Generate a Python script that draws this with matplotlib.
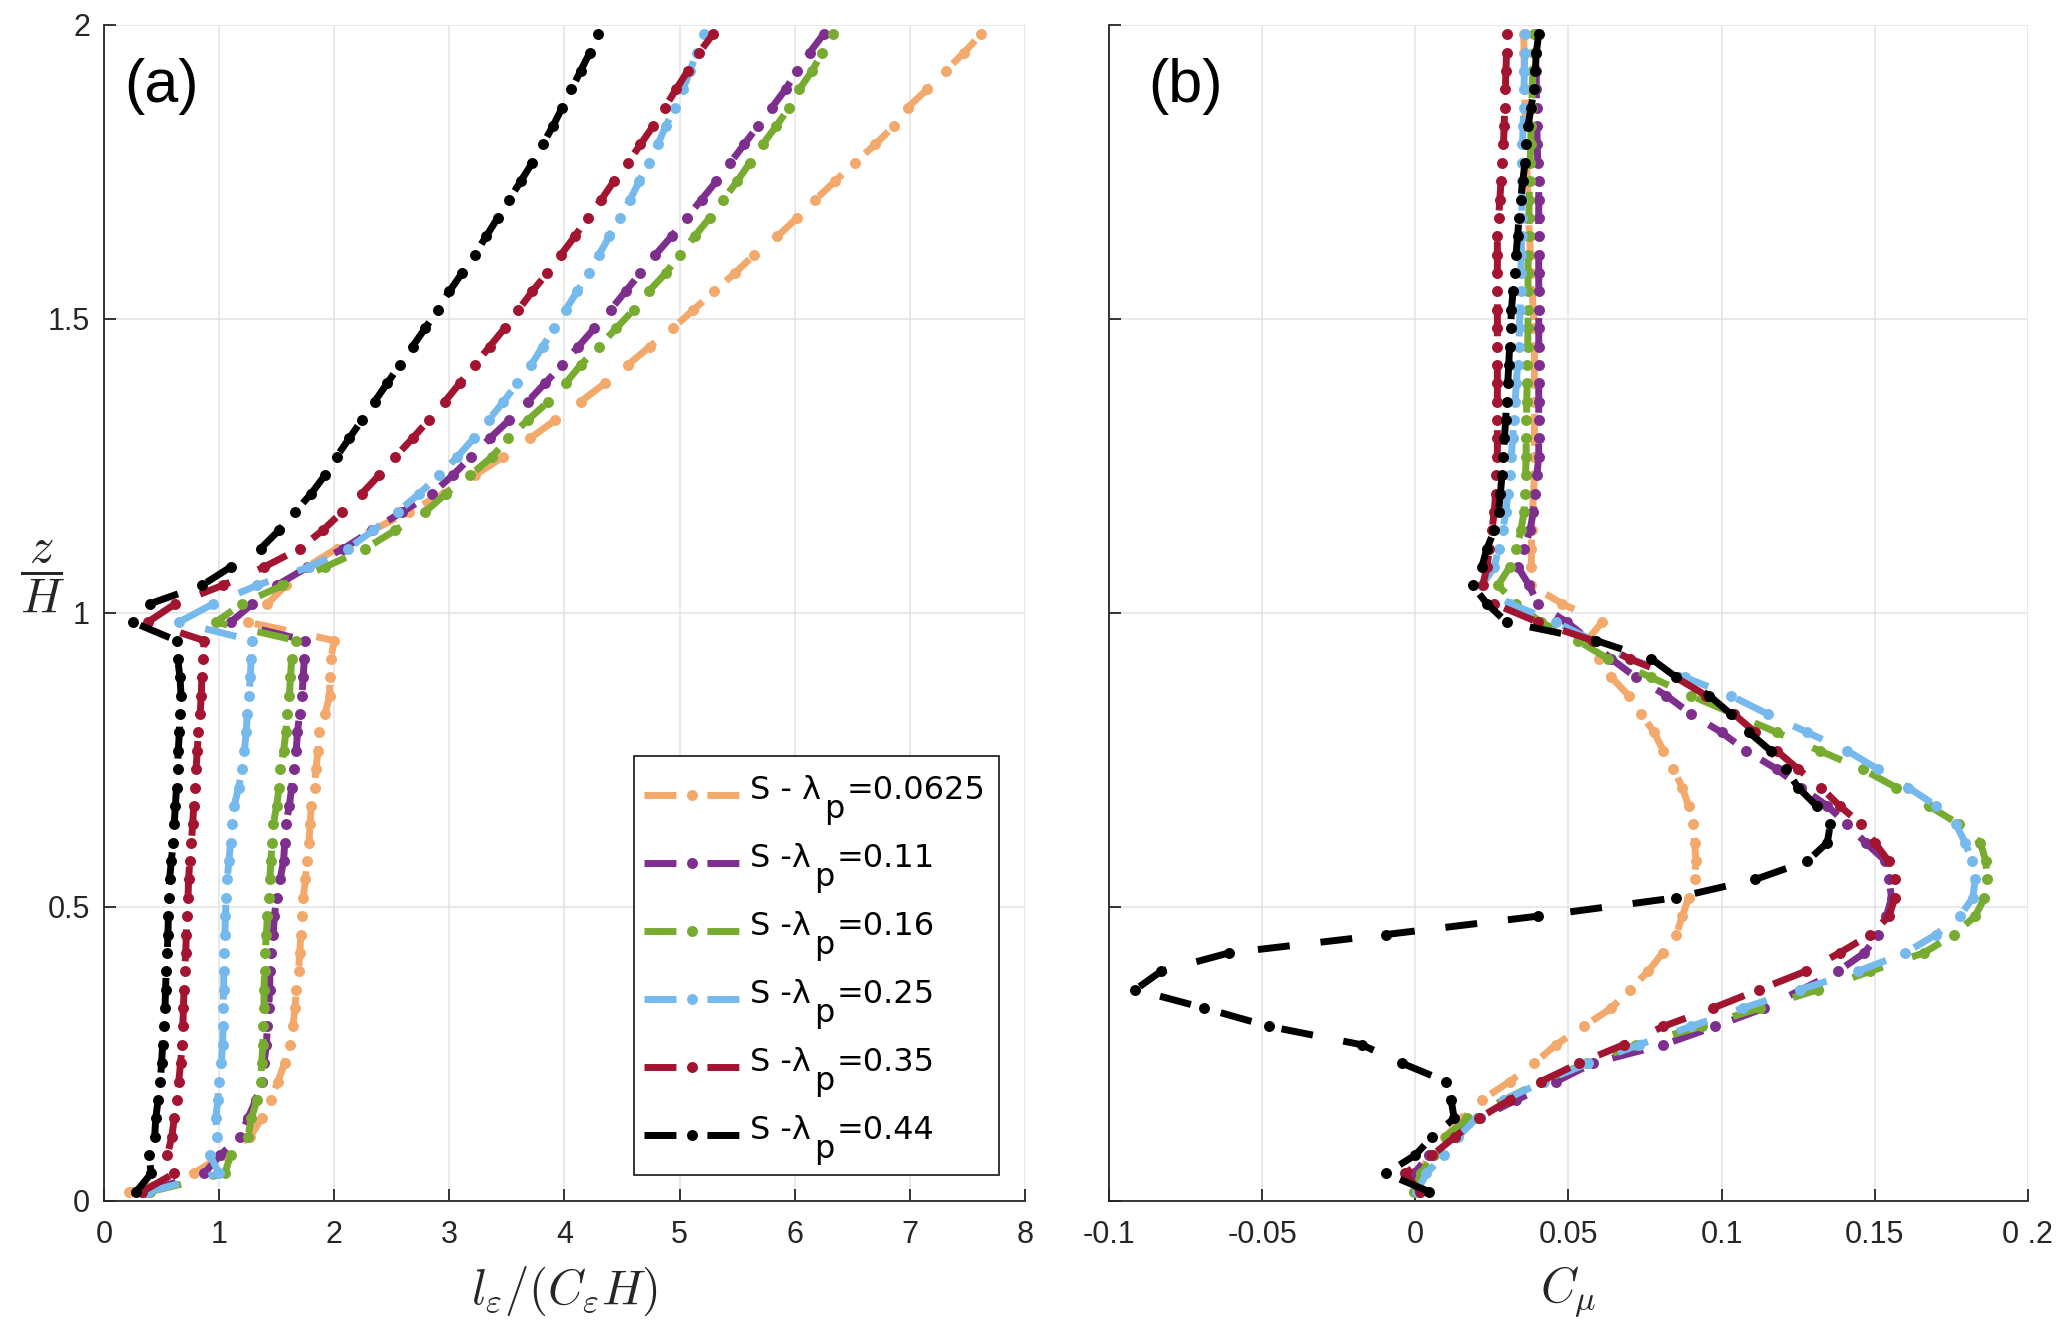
import numpy as np
import matplotlib
matplotlib.use("Agg")
import matplotlib.pyplot as plt
from matplotlib.patches import Rectangle

plt.rcParams['font.family'] = ['Liberation Sans', 'DejaVu Sans']
plt.rcParams['mathtext.fontset'] = 'cm'
plt.rcParams['lines.scale_dashes'] = False

# sample heights z/H (uniform grid of 64 cells over 0..2)
z = np.arange(0.5, 64, 1.0) / 32.0

label_heads = ['S - λ', 'S -λ', 'S -λ', 'S -λ', 'S -λ', 'S -λ']
label_subs = ['p', 'p', 'p', 'p', 'p', 'p']
label_tails = ['=0.0625', '=0.11', '=0.16', '=0.25', '=0.35', '=0.44']
colors = ['#F2A96B', '#7E2F8E', '#77AC30', '#76B9EC', '#A2142F', '#000000']

# panel (a): l_eps/(C_eps H)
a_orange = [0.22, 0.78, 1.03, 1.27, 1.37, 1.45, 1.51, 1.57, 1.62, 1.64,
            1.66, 1.67, 1.69, 1.70, 1.71, 1.72, 1.73, 1.75, 1.76, 1.78,
            1.79, 1.80, 1.83, 1.84, 1.86, 1.87, 1.92, 1.96, 1.96, 1.97,
            2.00, 1.25, 1.42, 1.58, 1.76, 2.02, 2.33, 2.65, 2.95, 3.22,
            3.47, 3.70, 3.92, 4.14, 4.35, 4.55, 4.74, 4.94, 5.12, 5.30,
            5.48, 5.65, 5.85, 6.02, 6.18, 6.35, 6.52, 6.70, 6.86, 6.98,
            7.15, 7.31, 7.47, 7.62]
a_purple = [0.36, 0.87, 1.01, 1.18, 1.25, 1.32, 1.37, 1.39, 1.41, 1.42,
            1.43, 1.44, 1.44, 1.45, 1.47, 1.48, 1.50, 1.53, 1.56, 1.57,
            1.58, 1.61, 1.63, 1.65, 1.67, 1.68, 1.70, 1.72, 1.73, 1.74,
            1.75, 1.10, 1.29, 1.50, 1.77, 2.08, 2.33, 2.59, 2.85, 3.03,
            3.19, 3.35, 3.52, 3.68, 3.83, 3.98, 4.12, 4.26, 4.40, 4.53,
            4.66, 4.79, 4.93, 5.06, 5.19, 5.32, 5.44, 5.56, 5.68, 5.80,
            5.92, 6.02, 6.13, 6.25]
a_green = [0.40, 1.05, 1.10, 1.25, 1.28, 1.33, 1.36, 1.37, 1.38, 1.385,
           1.39, 1.39, 1.395, 1.40, 1.41, 1.42, 1.43, 1.44, 1.45, 1.46,
           1.47, 1.50, 1.52, 1.53, 1.56, 1.58, 1.59, 1.61, 1.62, 1.63,
           1.67, 0.97, 1.20, 1.55, 1.92, 2.27, 2.53, 2.79, 2.97, 3.18,
           3.37, 3.51, 3.68, 3.86, 4.01, 4.14, 4.30, 4.45, 4.60, 4.73,
           4.88, 5.00, 5.13, 5.26, 5.38, 5.50, 5.61, 5.72, 5.84, 5.95,
           6.04, 6.15, 6.24, 6.33]
a_cyan = [0.38, 1.00, 0.92, 0.985, 0.97, 0.99, 1.00, 1.02, 1.03, 1.035,
          1.035, 1.04, 1.04, 1.045, 1.05, 1.055, 1.06, 1.07, 1.085, 1.10,
          1.115, 1.13, 1.17, 1.20, 1.22, 1.235, 1.245, 1.26, 1.27, 1.28,
          1.29, 0.65, 0.95, 1.33, 1.78, 2.12, 2.34, 2.55, 2.74, 2.91,
          3.07, 3.21, 3.34, 3.47, 3.59, 3.71, 3.81, 3.91, 4.01, 4.11,
          4.21, 4.30, 4.39, 4.48, 4.57, 4.65, 4.73, 4.81, 4.88, 4.96,
          5.03, 5.09, 5.15, 5.21]
a_red = [0.33, 0.61, 0.55, 0.59, 0.61, 0.63, 0.65, 0.665, 0.68, 0.685,
         0.69, 0.695, 0.70, 0.71, 0.715, 0.72, 0.73, 0.735, 0.745, 0.76,
         0.77, 0.78, 0.79, 0.80, 0.81, 0.82, 0.835, 0.845, 0.85, 0.86,
         0.87, 0.38, 0.62, 1.03, 1.39, 1.70, 1.90, 2.07, 2.24, 2.39,
         2.53, 2.68, 2.82, 2.96, 3.09, 3.22, 3.35, 3.48, 3.60, 3.72,
         3.85, 3.97, 4.09, 4.20, 4.32, 4.43, 4.55, 4.66, 4.77, 4.87,
         4.97, 5.07, 5.17, 5.29]
a_black = [0.28, 0.41, 0.39, 0.44, 0.45, 0.47, 0.49, 0.50, 0.51, 0.52,
           0.53, 0.535, 0.54, 0.55, 0.555, 0.56, 0.565, 0.57, 0.585, 0.60,
           0.61, 0.62, 0.63, 0.64, 0.645, 0.655, 0.66, 0.67, 0.66, 0.64,
           0.63, 0.25, 0.40, 0.85, 1.10, 1.36, 1.52, 1.66, 1.80, 1.92,
           2.02, 2.13, 2.24, 2.35, 2.46, 2.57, 2.68, 2.79, 2.90, 3.00,
           3.11, 3.22, 3.32, 3.42, 3.52, 3.62, 3.72, 3.81, 3.90, 3.98,
           4.06, 4.14, 4.22, 4.29]

# panel (b): C_mu
b_orange = [0.0006, 0.0016, 0.0046, 0.0097, 0.0157, 0.0217, 0.0308, 0.0389, 0.0459, 0.0550,
            0.0640, 0.0700, 0.0760, 0.0808, 0.0852, 0.0872, 0.0892, 0.0912, 0.0916, 0.0912,
            0.0905, 0.0892, 0.0872, 0.0842, 0.0810, 0.0780, 0.0737, 0.0697, 0.0640, 0.0600,
            0.0560, 0.0610, 0.0480, 0.0379, 0.0379, 0.0379, 0.0380, 0.0383, 0.0386, 0.0389,
            0.0389, 0.0389, 0.0389, 0.0389, 0.0389, 0.0389, 0.0389, 0.0389, 0.0385, 0.0382,
            0.0379, 0.0376, 0.0373, 0.0370, 0.0368, 0.0366, 0.0364, 0.0362, 0.0360, 0.0358,
            0.0357, 0.0356, 0.0355, 0.0354]
b_purple = [0.0016, -0.0004, 0.0046, 0.0120, 0.0210, 0.0330, 0.0460, 0.0580, 0.0810, 0.0980,
            0.1140, 0.1260, 0.1380, 0.1466, 0.1512, 0.1538, 0.1555, 0.1546, 0.1535, 0.1470,
            0.1410, 0.1345, 0.1260, 0.1180, 0.1080, 0.1000, 0.0900, 0.0820, 0.0720, 0.0640,
            0.0570, 0.0495, 0.0400, 0.0372, 0.0335, 0.0354, 0.0375, 0.0385, 0.0392, 0.0397,
            0.0403, 0.0403, 0.0403, 0.0403, 0.0403, 0.0403, 0.0403, 0.0403, 0.0403, 0.0403,
            0.0403, 0.0403, 0.0403, 0.0403, 0.0403, 0.0403, 0.0400, 0.0398, 0.0397, 0.0396,
            0.0395, 0.0395, 0.0395, 0.0395]
b_green = [-0.0004, 0.0018, 0.0060, 0.0100, 0.0170, 0.0290, 0.0410, 0.0560, 0.0720, 0.0935,
           0.1125, 0.1315, 0.1486, 0.1660, 0.1758, 0.1828, 0.1858, 0.1868, 0.1862, 0.1845,
           0.1775, 0.1677, 0.1570, 0.1460, 0.1320, 0.1180, 0.1040, 0.0900, 0.0770, 0.0630,
           0.0530, 0.0410, 0.0330, 0.0270, 0.0308, 0.0330, 0.0345, 0.0355, 0.0358, 0.0360,
           0.0362, 0.0362, 0.0363, 0.0364, 0.0365, 0.0366, 0.0367, 0.0368, 0.0368, 0.0368,
           0.0368, 0.0369, 0.0370, 0.0371, 0.0372, 0.0373, 0.0375, 0.0377, 0.0378, 0.0380,
           0.0382, 0.0384, 0.0386, 0.0389]
b_cyan = [0.0006, 0.0036, 0.0095, 0.0140, 0.0200, 0.0290, 0.0419, 0.0565, 0.0730, 0.0900,
          0.1070, 0.1255, 0.1445, 0.1600, 0.1700, 0.1778, 0.1820, 0.1828, 0.1818, 0.1795,
          0.1765, 0.1700, 0.1610, 0.1510, 0.1410, 0.1280, 0.1150, 0.1030, 0.0880, 0.0700,
          0.0580, 0.0459, 0.0310, 0.0217, 0.0258, 0.0272, 0.0285, 0.0296, 0.0302, 0.0308,
          0.0313, 0.0318, 0.0322, 0.0326, 0.0330, 0.0334, 0.0338, 0.0340, 0.0342, 0.0344,
          0.0345, 0.0346, 0.0347, 0.0348, 0.0348, 0.0348, 0.0349, 0.0350, 0.0352, 0.0354,
          0.0355, 0.0356, 0.0357, 0.0358]
b_red = [0.0016, -0.0034, 0.0056, 0.0130, 0.0207, 0.0308, 0.0410, 0.0535, 0.0680, 0.0810,
         0.0972, 0.1123, 0.1274, 0.1385, 0.1486, 0.1546, 0.1566, 0.1566, 0.1545, 0.1500,
         0.1456, 0.1385, 0.1325, 0.1250, 0.1180, 0.1110, 0.1040, 0.0950, 0.0850, 0.0700,
         0.0580, 0.0400, 0.0258, 0.0220, 0.0234, 0.0242, 0.0250, 0.0258, 0.0262, 0.0265,
         0.0268, 0.0268, 0.0268, 0.0268, 0.0268, 0.0268, 0.0268, 0.0268, 0.0268, 0.0268,
         0.0268, 0.0268, 0.0268, 0.0272, 0.0276, 0.0280, 0.0284, 0.0288, 0.0290, 0.0292,
         0.0294, 0.0296, 0.0298, 0.0298]
b_black = [0.0046, -0.0095, 0.0000, 0.0056, 0.0127, 0.0117, 0.0101, -0.0044, -0.0175, -0.0477,
           -0.0689, -0.0914, -0.0830, -0.0608, -0.0095, 0.0400, 0.0850, 0.1110, 0.1280, 0.1345,
           0.1355, 0.1310, 0.1250, 0.1210, 0.1160, 0.1090, 0.1030, 0.0960, 0.0852, 0.0771,
           0.0590, 0.0298, 0.0234, 0.0187, 0.0217, 0.0234, 0.0258, 0.0272, 0.0278, 0.0283,
           0.0288, 0.0291, 0.0295, 0.0298, 0.0302, 0.0305, 0.0308, 0.0311, 0.0314, 0.0319,
           0.0324, 0.0329, 0.0334, 0.0339, 0.0344, 0.0351, 0.0358, 0.0363, 0.0368, 0.0378,
           0.0387, 0.0392, 0.0395, 0.0403]

series_a = [a_orange, a_purple, a_green, a_cyan, a_red, a_black]
series_b = [b_orange, b_purple, b_green, b_cyan, b_red, b_black]

yticks = [0, 0.5, 1, 1.5, 2]
yticklabels = ['0', '0.5', '1', '1.5', '2']
xticks_a = [0, 1, 2, 3, 4, 5, 6, 7, 8]
xticks_b = [-0.1, -0.05, 0, 0.05, 0.1, 0.15, 0.2]
xticklabels_b = ['-0.1', '-0.05', '0', '0.05', '0.1', '0.15', '0 .2']

AX_COL = '#262626'
fig = plt.figure(figsize=(20.67, 13.35), dpi=100)
axA = fig.add_axes([0.0503, 0.1004, 0.4456, 0.8809])
axB = fig.add_axes([0.5365, 0.1004, 0.4446, 0.8809])


def style(ax):
    for s in ['top', 'right']:
        ax.spines[s].set_visible(False)
    for s in ['left', 'bottom']:
        ax.spines[s].set_color(AX_COL)
        ax.spines[s].set_linewidth(1.3)
    ax.grid(True, color='#e3e3e3', linewidth=1.1)
    ax.set_axisbelow(True)
    ax.tick_params(direction='in', length=8.5, width=1.3, color=AX_COL,
                   labelsize=22, labelcolor=AX_COL)
    ax.tick_params(axis='x', pad=14)
    ax.tick_params(axis='y', pad=10)
    ax.set_ylim(0, 2)
    ax.set_yticks(yticks)


style(axA)
style(axB)

line_kw = dict(lw=5.0, ls=(0, (23, 22.3)), marker='o', ms=7.9, mew=0,
               dash_capstyle='butt', solid_capstyle='butt')

for xs, c in zip(series_a, colors):
    axA.plot(xs, z, color=c, **line_kw)
for xs, c in zip(series_b, colors):
    axB.plot(xs, z, color=c, **line_kw)

axA.set_xlim(0, 8)
axA.set_xticks(xticks_a)
axA.set_xticklabels([str(t) for t in xticks_a])
axA.set_yticklabels(yticklabels)

axB.set_xlim(-0.1, 0.2)
axB.set_xticks(xticks_b)
axB.set_xticklabels(xticklabels_b)
axB.set_yticklabels([])

axA.set_xlabel(r'$l_\varepsilon/(C_\varepsilon H)$', fontsize=35, labelpad=10, color=AX_COL)
axB.set_xlabel(r'$C_\mu$', fontsize=35, labelpad=10, color=AX_COL)
axA.text(-0.067, 1.063, r'$\dfrac{z}{H}$', transform=axA.get_yaxis_transform(),
         fontsize=35, ha='center', va='center', color=AX_COL)

axA.text(0.063, 0.948, '(a)', transform=axA.transAxes, fontsize=44,
         ha='center', va='center', color='black')
axB.text(0.083, 0.948, '(b)', transform=axB.transAxes, fontsize=44,
         ha='center', va='center', color='black')

# ---- legend (drawn by hand so that the subscript p keeps full size) ----
W, H0, H1 = 921.0, 1201.0, 1176.0   # axes (a) size in px and bottom px


def fx(px):
    return (px - 104.0) / W


def fy(py):
    return (H0 - py) / H1


box = Rectangle((fx(634), fy(1175)), fx(999) - fx(634), fy(756) - fy(1175),
                transform=axA.transAxes, facecolor='white', edgecolor=AX_COL,
                linewidth=1.3, zorder=5, clip_on=False)
axA.add_patch(box)

row_y = [795, 863, 931, 999, 1067, 1135]
leg_font = dict(family='DejaVu Sans', size=23, color='black')
for i, c in enumerate(colors):
    yy = fy(row_y[i])
    axA.plot([fx(644), fx(692), fx(740)], [yy, yy, yy], transform=axA.transAxes,
             color=c, markevery=[1], zorder=6, clip_on=False, **line_kw)
    t1 = axA.text(fx(750), fy(row_y[i] + 4), label_heads[i], transform=axA.transAxes,
                  va='baseline', ha='left', zorder=7, **leg_font)
    t2 = axA.annotate(label_subs[i], xy=(1, 0), xycoords=t1, xytext=(2.5, -13.5),
                      textcoords='offset points', va='bottom', ha='left', zorder=7,
                      annotation_clip=False, **leg_font)
    axA.annotate(label_tails[i], xy=(1, 0), xycoords=t2, xytext=(1.5, 13.5),
                 textcoords='offset points', va='bottom', ha='left', zorder=7,
                 annotation_clip=False, **leg_font)

fig.savefig('out.png', dpi=100)
